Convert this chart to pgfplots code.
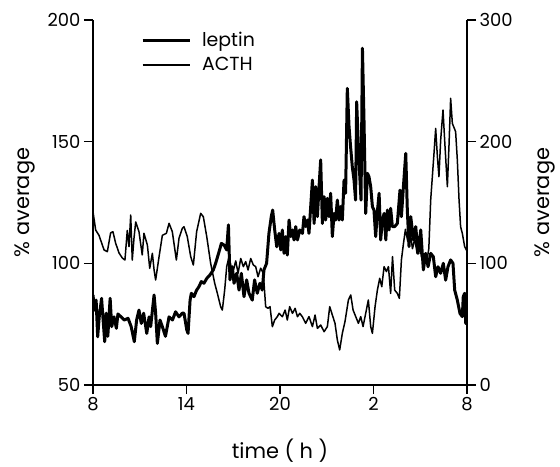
\documentclass[border=0pt]{standalone}
\usepackage{fontspec}
\setmainfont{Poppins}
\usepackage{pgfplots}
\pgfplotsset{compat=1.18}
\usepackage{pgfplotstable}

% leptin, % average (left axis); time in hours since 08:00
\pgfplotstableread{
h L
0 87
0.1 80.8
0.2 84.9
0.3 69.8
0.4 78
0.55 85.6
0.65 76.7
0.75 67.8
0.85 79.5
0.95 70
1.1 85.6
1.2 74
1.35 78
1.5 73.3
1.6 79.2
1.8 78
2.0 76.7
2.25 77.4
2.45 74
2.65 67.8
2.8 76.7
2.95 80.8
3.1 75.3
3.25 79.5
3.45 71.2
3.6 78
3.7 74
3.92 87
4.02 79.5
4.13 67.1
4.3 76.7
4.45 74
4.65 70
4.88 78
5.1 76.7
5.3 80.1
5.52 78
5.73 79.5
5.84 79.5
6.02 72.6
6.1 71.2
6.23 84.9
6.31 87.7
6.48 86.3
6.65 89
6.8 90.4
6.95 92.5
7.12 91.8
7.3 93.8
7.5 95.2
7.72 97.3
7.87 100
8.09 104.8
8.24 108.2
8.41 107.5
8.58 105.5
8.69 115.8
8.79 93.2
8.94 98.6
9.05 91.8
9.22 95.9
9.37 89
9.52 95.9
9.69 86.3
9.86 93.2
10.01 87.7
10.22 84.9
10.37 93.2
10.54 87.7
10.71 91.8
10.86 89
10.97 97.3
11.14 100
11.29 112.3
11.44 119.2
11.53 121.9
11.66 113.7
11.79 106.8
11.94 112.3
12.05 105.5
12.15 113.7
12.26 104.1
12.37 111
12.47 103.4
12.58 117.8
12.69 111
12.8 113.7
12.9 109.6
13.01 115.1
13.12 109.6
13.27 113.7
13.44 112.3
13.54 119.2
13.65 115.1
13.76 117.8
13.86 112.3
13.97 123.3
14.08 134.2
14.19 116.4
14.29 131.5
14.4 119.2
14.5 130.8
14.61 142.5
14.72 116.4
14.83 127.4
14.93 117.8
15.04 126.7
15.15 119.2
15.25 128.8
15.36 111
15.47 120.5
15.57 117.8
15.68 126
15.79 117.8
15.89 123.3
16.0 117.8
16.11 134.2
16.21 128.8
16.32 171.9
16.43 156.2
16.53 147.9
16.64 139.7
16.75 134.2
16.85 126
16.92 166.4
17.03 147.9
17.11 137
17.2 126
17.29 188.4
17.39 158.9
17.5 120.5
17.61 137
17.71 135.6
17.82 131.5
17.93 123.3
18.03 121.9
18.14 111
18.25 121.3
18.36 128.8
18.46 109.6
18.57 117.8
18.68 120.5
18.79 109.6
18.89 121.9
19.0 113.7
19.1 122.6
19.21 115.1
19.36 115.1
19.53 116.4
19.7 130.1
19.79 119.2
19.92 131.5
20.07 145.2
20.17 121.9
20.28 106.9
20.39 119.2
20.56 109.6
20.71 115.1
20.86 104.1
21.03 113.7
21.2 97.3
21.35 104.1
21.5 98.6
21.67 104.1
21.84 102.7
21.99 94.5
22.14 98.6
22.31 95.9
22.48 100
22.63 93.1
22.78 98.6
22.95 101.4
23.1 100
23.21 89
23.38 84.9
23.55 79.4
23.7 78.1
23.76 86.3
23.85 87.7
23.92 75.3
24.0 78
}\leptin

% ACTH, % average (right axis)
\pgfplotstableread{
h R
0 142.5
0.17 127.4
0.385 123
0.71 111
0.92 109.6
1.13 125
1.28 126
1.45 116.7
1.67 108.5
1.88 104.4
2.05 102.7
2.2 127
2.31 113.7
2.42 139.7
2.52 102.7
2.63 120.6
2.74 134
2.95 126
3.16 106.9
3.27 124.7
3.49 115
3.64 95.9
3.81 108.2
3.92 94.5
4.02 86.3
4.24 105.5
4.45 123
4.71 124.7
4.88 132.9
5.09 126
5.35 102.7
5.52 120.6
5.73 128.8
5.84 130.1
6.05 121.9
6.27 105.5
6.44 98.6
6.65 126
6.91 141.1
7.08 138.3
7.3 121.9
7.55 100
7.81 83.6
7.98 75.4
8.19 64.4
8.3 61.6
8.45 78.1
8.58 97.3
8.73 105.5
8.88 96
9.01 94.5
9.16 102
9.31 91.8
9.48 104
9.65 97.3
9.8 101.4
9.95 94.5
10.12 104
10.29 98.6
10.44 97.3
10.59 89
10.76 96
10.93 91.8
11.08 64.4
11.23 63
11.36 64.4
11.51 47.9
11.66 53.4
11.83 56.2
11.94 58.9
12.15 56.1
12.33 61.6
12.47 53.4
12.62 64.4
12.8 58.9
12.97 63
13.12 56.1
13.27 58.9
13.44 56
13.65 50.7
13.86 56.2
14.08 48
14.25 57.5
14.4 46.6
14.61 49.3
14.83 43.8
15.04 48
15.19 64.4
15.36 57.5
15.53 50.7
15.68 37
15.83 28.8
16.0 42.5
16.17 52.1
16.39 69.9
16.54 74
16.69 61.6
16.86 56.2
17.03 50.7
17.18 56.2
17.33 48
17.5 58.9
17.67 69.9
17.82 48
17.93 42.5
18.1 64.4
18.25 78.1
18.4 87.7
18.53 80.8
18.68 97.3
18.83 93.2
18.96 97.3
19.1 75.3
19.22 105.5
19.36 78
19.53 75.3
19.66 71.2
19.79 102.7
19.92 116
20.05 128
20.2 118
20.35 126
20.5 112
20.65 120
20.8 108
20.95 115
21.1 104
21.25 108
21.4 100
21.55 112
21.67 152
21.88 190
21.99 210.9
22.1 187.6
22.2 171.2
22.31 201.3
22.46 226
22.59 195.9
22.74 163
22.85 198.6
22.95 235.6
23.06 215
23.27 208.2
23.38 184.9
23.49 152
23.59 130.1
23.7 124.6
23.85 113.7
24 110
}\acth

\pgfplotsset{
  base/.style={
    scale only axis, width=374bp, height=365bp,
    at={(0,0)}, anchor=south west,
    xmin=0, xmax=24,
    tick align=outside, major tick length=9bp,
    every tick/.style={black, line width=1.2bp},
    axis line style={line width=1.3bp},
    tick label style={font=\fontsize{18}{20}\selectfont},
    label style={font=\fontsize{21}{24}\selectfont},
    /pgf/number format/assume math mode=true,
  },
}

\begin{document}
\begin{tikzpicture}
\useasboundingbox (-93bp,-82bp) rectangle (467bp,385bp);
\begin{axis}[base,
  axis x line*=bottom, axis y line*=left,
  ymin=50, ymax=200, ytick={50,100,150,200},
  xtick={0,6,12,18,24}, xticklabels={8,14,20,2,8},
  xlabel={time ( h )}, ylabel={\% average},
  xlabel shift=21bp, ylabel shift=6bp,
  legend style={at={(rel axis cs:0.12,0.977)}, anchor=north west,
    draw=none, fill=none, font=\fontsize{19}{21}\selectfont,
    row sep=5bp},
  legend cell align=left,
  legend image code/.code={\draw[#1] (0bp,0bp) -- (47bp,0bp); \path (56bp,0bp);},
]
\addplot[black, line width=3bp, line join=round] table[x=h, y=L] {\leptin};
\addlegendentry{leptin}
\addlegendimage{black, line width=1.5bp}
\addlegendentry{ACTH}
\end{axis}
\begin{axis}[base,
  axis y line*=right, axis x line=none,
  ymin=0, ymax=300, ytick={0,100,200,300},
  ylabel={\% average}, ylabel shift=15bp,
]
\addplot[black, line width=1.5bp, line join=round] table[x=h, y=R] {\acth};
\end{axis}
\end{tikzpicture}
\end{document}
